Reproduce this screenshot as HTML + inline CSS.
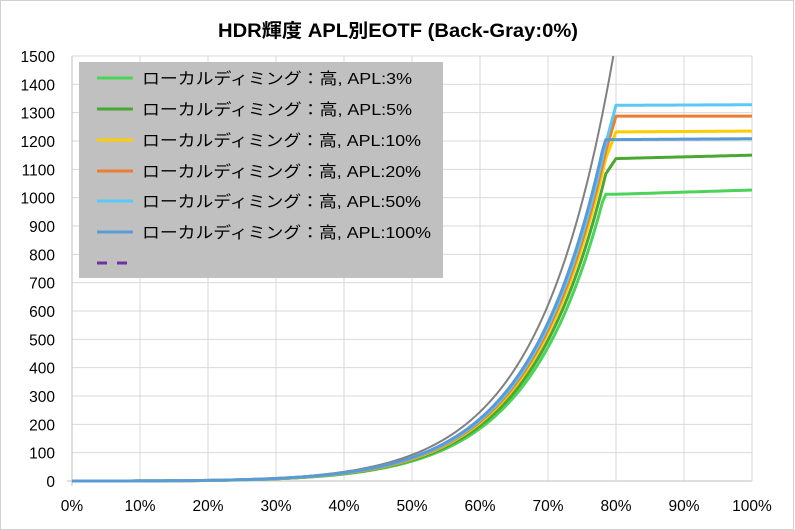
<!DOCTYPE html><html><head><meta charset="utf-8"><style>
body{margin:0;background:#fff}
svg{display:block;font-family:"Liberation Sans","Noto Sans CJK JP",sans-serif}
</style></head><body>
<svg id="s" width="795" height="530" xmlns="http://www.w3.org/2000/svg">
<rect x="0.5" y="0.5" width="793" height="529" fill="#fff" stroke="#d0d0d0"/>
<text x="218" y="37" font-size="19" font-weight="bold" textLength="360" lengthAdjust="spacingAndGlyphs" fill="#000">HDR輝度 APL別EOTF (Back-Gray:0%)</text>
<g id="grid"></g><g id="lines"></g>
<rect x="79" y="62" width="364" height="216" fill="#c0c0c0"/>
<g id="leg" font-size="16" fill="#000"></g>
</svg>
<script>
var s=document.getElementById('s'),NS="http://www.w3.org/2000/svg";
function el(p,t,a,txt){var e=document.createElementNS(NS,t);for(var k in a)e.setAttribute(k,a[k]);if(txt!=null)e.textContent=txt;document.getElementById(p).appendChild(e);return e;}
var X=function(p){return 72+p*6.8},Y=function(v){return 481-v*0.28333};
for(var v=0;v<=1500;v+=100){el('grid','line',{x1:72,x2:752,y1:Y(v),y2:Y(v),stroke:'#d9d9d9','stroke-width':1});
el('grid','text',{x:55,y:Y(v)+6,'font-size':15.5,'text-anchor':'end',fill:'#000'},v);}
for(var p=0;p<=100;p+=10){el('grid','line',{x1:X(p),x2:X(p),y1:56,y2:481,stroke:'#d9d9d9','stroke-width':1});
el('grid','text',{x:X(p),y:511,'font-size':15.5,'text-anchor':'middle',fill:'#000'},p+'%');}
el('grid','line',{x1:72,x2:72,y1:56,y2:486,stroke:'#bfbfbf'});
el('grid','line',{x1:67,x2:752,y1:481,y2:481,stroke:'#bfbfbf'});
function pq(E){var m1=0.1593017578125,m2=78.84375,c1=0.8359375,c2=18.8515625,c3=18.6875;var e=Math.pow(E,1/m2);return 10000*Math.pow(Math.max(e-c1,0)/(c2-c3*e),1/m1);}
var gp=[];for(var p=0;p<=80;p+=0.5){var v=pq(p/100);if(v>1500){var p0=p-0.5;var v0=pq(p0/100);var f=(1500-v0)/(v-v0);gp.push(X(p0+0.5*f)+','+Y(1500));break;}gp.push(X(p)+','+Y(v));}
el('lines','polyline',{points:gp.join(' '),fill:'none',stroke:'#808080','stroke-width':2});
var ser=[['#4cd35a',0.76,1012,1027],['#4aa832',0.8,1138,1150],['#ffcc00',0.84,1232,1235],['#ed7d31',0.86,1288,1288],['#5bc8f5',0.88,1326,1328],['#5b9bd5',0.9,1205,1208]];
ser.forEach(function(sr){var pts=[];for(var p=0;p<=100;p+=0.5){var v;var pl=sr[2]+(sr[3]-sr[2])*Math.max(0,(p-80)/20);
if(p<=78.5){v=Math.min(sr[1]*pq(p/100),pl);}else if(p<80){var a=Math.min(sr[1]*pq(0.785),pl);v=a+(pl-a)*(p-78.5)/1.5;v=Math.max(v,a);}else v=pl;
pts.push(X(p)+','+Y(v));}
el('lines','polyline',{points:pts.join(' '),fill:'none',stroke:sr[0],'stroke-width':3,'stroke-linejoin':'round'});});
var names=['3%','5%','10%','20%','50%','100%'],ys=[78,109,140,171,201,232],lens=[270,270,279,279,279,289];
ser.forEach(function(sr,i){el('leg','line',{x1:97,x2:133,y1:ys[i],y2:ys[i],stroke:sr[0],'stroke-width':3});
el('leg','text',{x:142,y:ys[i]+6,textLength:lens[i],lengthAdjust:'spacingAndGlyphs'},'ローカルディミング：高, APL:'+names[i]);});
el('leg','line',{x1:97,x2:133,y1:263,y2:263,stroke:'#7030a0','stroke-width':3,'stroke-dasharray':'10 10'});
</script>
</body></html>
